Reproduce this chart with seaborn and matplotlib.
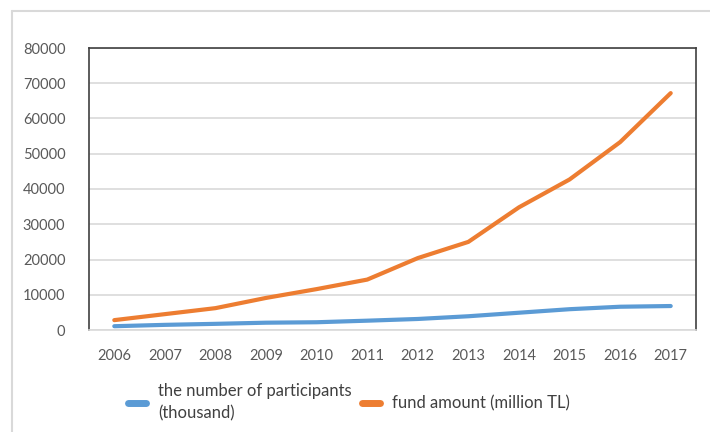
import numpy as np
import pandas as pd
import matplotlib
matplotlib.use("Agg")
import matplotlib.pyplot as plt
import seaborn as sns
from matplotlib.lines import Line2D

years = ["2006", "2007", "2008", "2009", "2010", "2011",
         "2012", "2013", "2014", "2015", "2016", "2017"]
participants = [1074, 1459, 1747, 2073, 2200, 2643,
                3128, 3900, 4900, 5900, 6600, 6800]
fund_amount = [2800, 4500, 6200, 9100, 11600, 14300,
               20400, 25000, 34800, 42700, 53300, 67200]

label_part = "the number of participants\n(thousand)"
label_fund = "fund amount (million TL)"

df = pd.DataFrame({"year": years * 2,
                   "value": participants + fund_amount,
                   "series": [label_part] * len(years) + [label_fund] * len(years)})

sns.set_theme(style="white")
plt.rcParams['font.family'] = ['Lato', 'DejaVu Sans']

blue = "#5B9BD5"
orange = "#ED7D31"

fig = plt.figure(figsize=(7.1, 4.32), dpi=100)
ax = fig.add_axes([89 / 710, 1 - 330 / 432, (696 - 89) / 710, (330 - 48) / 432])

sns.lineplot(data=df, x="year", y="value", hue="series",
             palette=[blue, orange], linewidth=3.0, ax=ax, legend=False)

ax.set_xlim(-0.5, 11.5)
ax.set_ylim(0, 80000)
ax.set_yticks(np.arange(0, 80001, 10000))
ax.yaxis.grid(True, color="#D9D9D9", linewidth=1.2)
ax.set_axisbelow(True)
ax.set_xlabel("")
ax.set_ylabel("")
ax.tick_params(axis="both", length=0, labelsize=10.5, labelcolor="#595959")
ax.tick_params(axis="y", pad=17)
ax.tick_params(axis="x", pad=14)

for side in ["left", "top", "right"]:
    ax.spines[side].set_color("#404040")
    ax.spines[side].set_linewidth(1.2)
ax.spines["bottom"].set_color("#D9D9D9")
ax.spines["bottom"].set_linewidth(1.2)

handles = [Line2D([0], [0], color=blue, linewidth=5),
           Line2D([0], [0], color=orange, linewidth=5)]
leg = fig.legend(handles, [label_part, label_fund], ncol=2, frameon=False,
                 loc="center left", bbox_to_anchor=(113 / 710, 1 - 402 / 432),
                 fontsize=12, handlelength=1.1, handletextpad=0.7,
                 columnspacing=0.6, labelcolor="#404040")
leg.get_texts()[0].set_linespacing(1.45)

# outer light border of the chart area
fig.add_artist(Line2D([12 / 710, 12 / 710], [0, 1 - 11 / 432],
                      transform=fig.transFigure, color="#D9D9D9", linewidth=1.5))
fig.add_artist(Line2D([12 / 710, 1], [1 - 11 / 432, 1 - 11 / 432],
                      transform=fig.transFigure, color="#D9D9D9", linewidth=1.5))

fig.savefig("out.png", dpi=100)
